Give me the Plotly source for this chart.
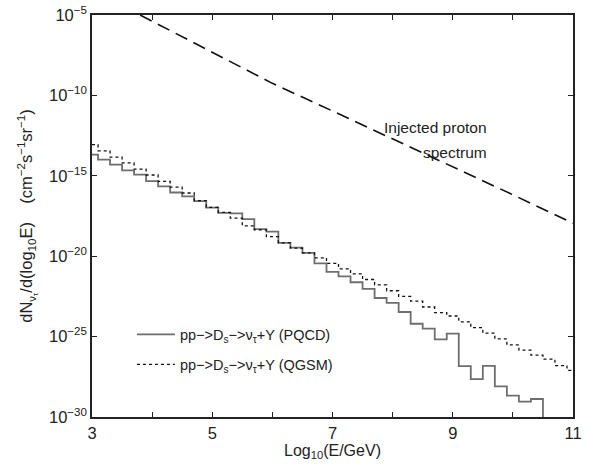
import numpy as np
import plotly.graph_objects as go

# bin centres, log10(E/GeV)
log_e = [3.0 + 0.2 * i for i in range(41)]

# log10 of dN/dlog10E
qgsm_log = [-13.06, -13.45, -13.84, -14.20, -14.58, -14.95, -15.35, -15.70, -16.07, -16.55,
            -16.96, -17.28, -17.63, -18.11, -18.36, -18.78, -19.17, -19.50, -19.79, -20.10,
            -20.44, -20.79, -21.10, -21.45, -21.78, -22.15, -22.50, -22.80, -23.16, -23.51,
            -23.72, -24.08, -24.44, -24.78, -25.14, -25.51, -25.84, -26.15, -26.40, -26.80,
            -27.10]
pqcd_log = [-13.68, -14.00, -14.31, -14.66, -14.93, -15.33, -15.66, -16.04, -16.28, -16.58,
            -16.98, -17.30, -17.34, -17.69, -18.32, -18.47, -19.17, -19.47, -19.79, -20.44,
            -20.97, -21.25, -21.62, -22.03, -22.60, -22.90, -23.47, -24.20, -24.50, -25.17,
            -24.82, -26.84, -27.65, -26.82, -28.10, -28.67, -29.05, -28.88, -40.0, -40.0,
            -40.0]

# injected proton spectrum (dashed)
proton_x = [3.8, 5.0, 6.0, 7.0, 8.0, 9.0, 10.0, 11.0]
proton_log = [-5.0, -7.3, -9.25, -10.97, -12.7, -14.43, -16.18, -17.95]

ytick_exp = [-30, -25, -20, -15, -10, -5]
xtick_vals = [3, 4, 5, 6, 7, 8, 9, 10, 11]
xtick_text = ["3", "", "5", "", "7", "", "9", "", "11"]

FONT = "Liberation Sans, Arial, sans-serif"

fig = go.Figure()

fig.add_trace(go.Scatter(
    x=log_e, y=10.0 ** np.array(pqcd_log), mode="lines", line_shape="hvh",
    line=dict(color="#6e6e6e", width=1.8),
    name="pp\u2212>D<sub>s</sub>\u2212>\u03bd<sub>\u03c4</sub>+Y (PQCD)",
    legendgroup="a"))
fig.add_trace(go.Scatter(
    x=log_e, y=10.0 ** np.array(qgsm_log), mode="lines", line_shape="hvh",
    line=dict(color="#111111", width=1.3, dash="dot"),
    name="pp\u2212>D<sub>s</sub>\u2212>\u03bd<sub>\u03c4</sub>+Y (QGSM)",
    legendgroup="b"))
fig.add_trace(go.Scatter(
    x=proton_x, y=10.0 ** np.array(proton_log), mode="lines",
    line=dict(color="#111111", width=1.6, dash="13px,7px"),
    showlegend=False))

# label for the dashed curve, two lines right-aligned
fig.add_annotation(x=9.61, y=-12.02, xref="x", yref="y", text="Injected proton",
                   showarrow=False, xanchor="right", yanchor="middle",
                   font=dict(size=15.5, color="#222"))
fig.add_annotation(x=9.61, y=-13.54, xref="x", yref="y", text="spectrum",
                   showarrow=False, xanchor="right", yanchor="middle",
                   font=dict(size=15.5, color="#222"))

fig.update_xaxes(range=[3, 11], tickvals=xtick_vals, ticktext=xtick_text,
                 ticks="inside", ticklen=5, tickwidth=1, tickcolor="#222",
                 showline=True, linecolor="#222", linewidth=1.5, mirror="ticks",
                 showgrid=False, zeroline=False, automargin=False,
                 tickfont=dict(size=16.5, color="#222"),
                 title=dict(text="Log<sub>10</sub>(E/GeV)", standoff=0,
                            font=dict(size=16, color="#222")))
fig.update_yaxes(type="log", range=[-30, -5],
                 tickvals=[10.0 ** e for e in ytick_exp],
                 ticktext=["10<sup>\u2212%d</sup>" % -e for e in ytick_exp],
                 ticks="inside", ticklen=5, tickwidth=1, tickcolor="#222",
                 showline=True, linecolor="#222", linewidth=1.5, mirror="ticks",
                 showgrid=False, zeroline=False, automargin=False,
                 ticklabeloverflow="allow",
                 tickfont=dict(size=16.5, color="#222"),
                 title=dict(text="dN<sub>\u03bd<sub>\u03c4</sub></sub>/d(log<sub>10</sub>E)"
                                 "    (cm<sup>\u22122</sup>s<sup>\u22121</sup>sr<sup>\u22121</sup>)",
                            standoff=12, font=dict(size=16.5, color="#222")))

fig.update_layout(
    width=612, height=468,
    margin=dict(l=92, r=39, t=15, b=51),
    paper_bgcolor="white", plot_bgcolor="white",
    font=dict(family=FONT, color="#222"),
    showlegend=True,
    legend=dict(x=0.083, y=0.245, xanchor="left", yanchor="top",
                bgcolor="rgba(0,0,0,0)", font=dict(size=14.5, color="#222"),
                traceorder="grouped", tracegroupgap=8, itemwidth=38),
)

# drop the default page margin so the figure sits at the window corner
fig.write_html("out.html", config={"displayModeBar": False},
               post_script="document.body.style.margin='0px';")
